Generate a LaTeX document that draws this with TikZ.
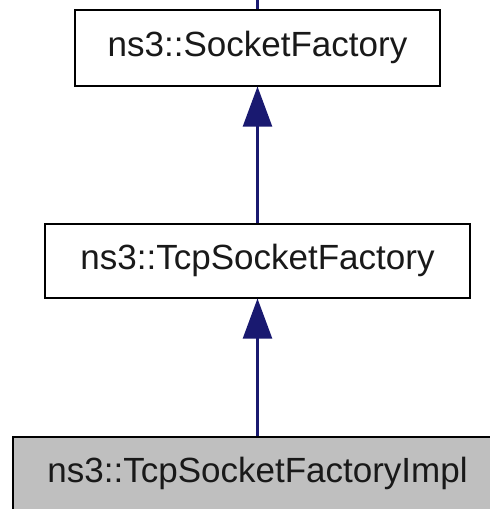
\documentclass[tikz,border=0pt]{standalone}
\usepackage{fontspec}
\setmainfont{Liberation Sans}
\usetikzlibrary{arrows.meta}
\definecolor{edgeblue}{HTML}{191970}
\definecolor{implgray}{HTML}{BFBFBF}
\tikzset{
  classbox/.style={draw=black, line width=2pt, fill=white, rectangle,
    inner sep=0pt, font=\fontsize{35}{40}\selectfont, text=black!90},
  inherit/.style={draw=edgeblue, line width=2.2pt,
    -{Triangle[width=29pt,length=40pt,fill=edgeblue]}},
}
\begin{document}
\begin{tikzpicture}[x=1pt,y=-1pt]
  \useasboundingbox (0,0) rectangle (490,509);
  \clip (0,0) rectangle (490,509);
  \node[classbox, minimum width=365pt, minimum height=76pt] (sf) at (257.5,47.5) {ns3::SocketFactory};
  \node[classbox, minimum width=425pt, minimum height=74pt] (tcpsf) at (257.5,260.5) {ns3::TcpSocketFactory};
  \node[classbox, fill=implgray, minimum width=489pt, minimum height=73pt] (impl) at (257.5,473.5) {ns3::TcpSocketFactoryImpl};
  \coordinate (up) at (257.5,0);
  \draw[draw=edgeblue, line width=2.2pt] (sf.north) -- (up);
  \draw[inherit] (tcpsf.north) -- (sf.south);
  \draw[inherit] (impl.north) -- (tcpsf.south);
\end{tikzpicture}
\end{document}
